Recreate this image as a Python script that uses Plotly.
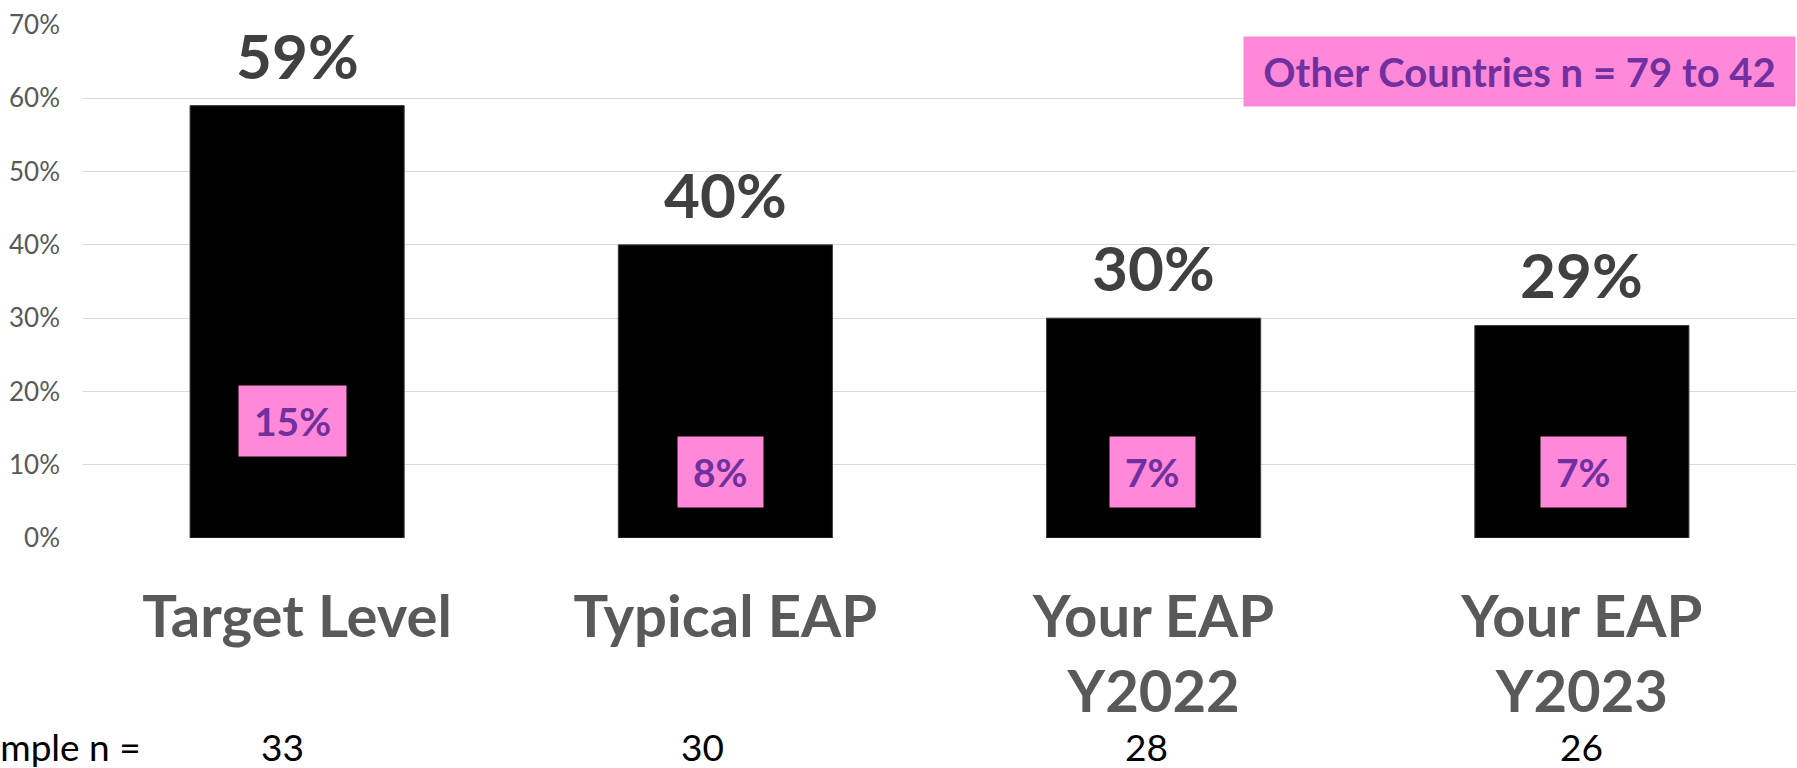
import plotly.graph_objects as go

categories = ["Target Level", "Typical EAP", "Your EAP<br>Y2022", "Your EAP<br>Y2023"]
values = [0.59, 0.40, 0.30, 0.29]
other_values = [0.15, 0.08, 0.07, 0.07]
sample_n = [33, 30, 28, 26]
legend_text = "Other Countries n = 79 to 42"
y_ticks = [0, 0.1, 0.2, 0.3, 0.4, 0.5, 0.6, 0.7]

# small horizontal nudges (style only)
sample_xshift = [-15, -23, -7, 0]
pink_xshift = [-5, -5, -1, 2]

FONT = "Lato"
PINK = "#FF88D8"
PURPLE = "#7030A0"

fig = go.Figure()
fig.add_trace(go.Bar(
    x=categories, y=values,
    marker=dict(color="#000000", line=dict(color="#404040", width=1)),
    width=0.5,
    hoverinfo="skip",
))

# value labels above bars
for c, v in zip(categories, values):
    fig.add_annotation(
        x=c, y=v, xref="x", yref="y", text=f"{v:.0%}", showarrow=False,
        yanchor="bottom", yshift=12,
        font=dict(family=FONT, size=62, color="#404040", weight="bold"),
    )

# pink "other countries" labels
for c, o, dx in zip(categories, other_values, pink_xshift):
    fig.add_annotation(
        x=c, y=max(o, 0.08), xref="x", yref="y", text=f"{o:.0%}", showarrow=False,
        yanchor="middle", yshift=7, xshift=dx,
        bgcolor=PINK, borderpad=15, height=40,
        font=dict(family=FONT, size=39, color=PURPLE, weight="bold"),
    )

# legend box
fig.add_annotation(
    x=1, y=0.9786, xref="paper", yref="paper", xanchor="right", yanchor="top",
    text=legend_text, showarrow=False, bgcolor=PINK, borderpad=10,
    height=49, width=531, align="center",
    font=dict(family=FONT, size=40, color=PURPLE, weight="bold"),
)

# sample n row
fig.add_annotation(
    x=0, y=0, xref="paper", yref="paper", xanchor="right", yanchor="middle",
    xshift=60, yshift=-208, text="Sample n =", showarrow=False,
    font=dict(family=FONT, size=37, color="#000000"),
)
for c, n, dx in zip(categories, sample_n, sample_xshift):
    fig.add_annotation(
        x=c, y=0, xref="x", yref="paper", yanchor="middle", yshift=-208,
        xshift=dx, text=str(n), showarrow=False,
        font=dict(family=FONT, size=37, color="#000000"),
    )

fig.update_layout(
    width=1797, height=768,
    margin=dict(l=83, r=1, t=25, b=230),
    plot_bgcolor="white", paper_bgcolor="white",
    showlegend=False,
    bargap=0.5,
)
fig.update_yaxes(
    range=[0, 0.7], tickvals=y_ticks, tickformat=".0%",
    showgrid=True, gridcolor="#d9d9d9", gridwidth=1,
    zeroline=False, showline=False, ticks="", automargin=False,
    ticklabelstandoff=22,
    tickfont=dict(family=FONT, size=26, color="#595959"),
)
fig.update_xaxes(
    showline=False, ticks="", ticklabelstandoff=40, automargin=False,
    tickfont=dict(family=FONT, size=58, color="#595959", weight="bold"),
)

fig.write_html(
    "out.html",
    config={"displayModeBar": False},
    post_script="document.body.style.margin='0';document.body.style.overflow='hidden';",
)
